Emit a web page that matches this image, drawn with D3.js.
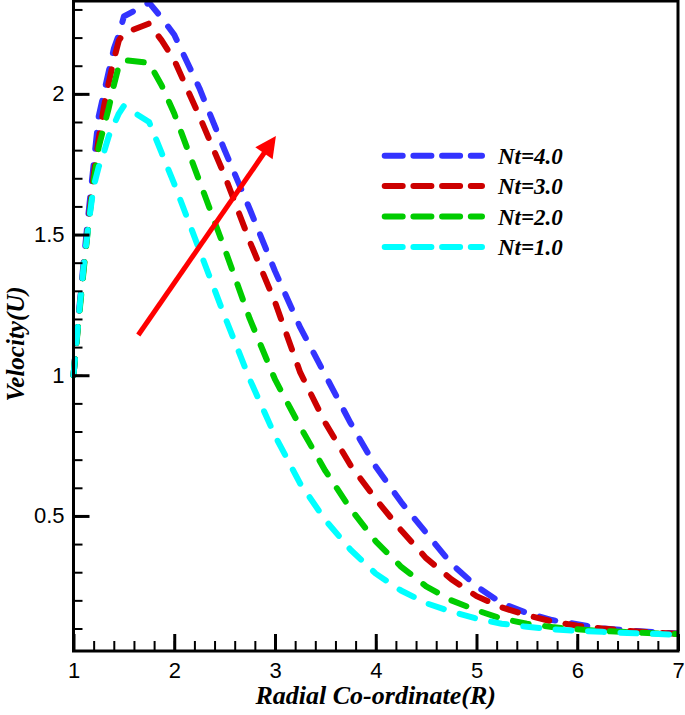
<!DOCTYPE html>
<html>
<head>
<meta charset="utf-8">
<script src="https://cdn.jsdelivr.net/npm/d3@7"></script>
<style>
  html, body { margin: 0; padding: 0; background: #ffffff; }
  svg { display: block; }
</style>
</head>
<body>
<svg id="chart" width="685" height="715"></svg>
<script>
// ---------------- data ----------------
const R = [1.0, 1.05, 1.1, 1.15, 1.2, 1.25, 1.3, 1.35, 1.4, 1.45, 1.5, 1.75, 1.875, 2.0, 2.25, 2.5, 2.75, 3.0, 3.25, 3.5, 3.75, 4.0, 4.25, 4.5, 4.75, 5.0, 5.25, 5.5, 5.75, 6.0, 6.25, 6.5, 6.75, 7.0];
const U_nt4 = [1.0, 1.21, 1.40, 1.58, 1.75, 1.92, 2.00, 2.08, 2.16, 2.21, 2.275, 2.324, 2.27, 2.21, 2.02, 1.80, 1.59, 1.37, 1.17, 1.00, 0.83, 0.675, 0.55, 0.44, 0.33, 0.25, 0.19, 0.155, 0.13, 0.115, 0.10, 0.093, 0.087, 0.082];
const U_nt3 = [1.0, 1.20, 1.38, 1.55, 1.71, 1.84, 1.95, 2.04, 2.12, 2.19, 2.215, 2.25, 2.19, 2.12, 1.92, 1.71, 1.475, 1.26, 1.01, 0.83, 0.68, 0.56, 0.45, 0.35, 0.275, 0.215, 0.175, 0.147, 0.125, 0.11, 0.10, 0.092, 0.086, 0.081];
const U_nt2 = [1.0, 1.19, 1.37, 1.54, 1.69, 1.81, 1.88, 1.95, 2.03, 2.10, 2.12, 2.11, 2.03, 1.93, 1.69, 1.45, 1.20, 0.985, 0.817, 0.66, 0.525, 0.41, 0.32, 0.25, 0.20, 0.165, 0.135, 0.117, 0.105, 0.097, 0.091, 0.087, 0.083, 0.080];
const U_nt1 = [1.0, 1.20, 1.385, 1.54, 1.67, 1.74, 1.79, 1.85, 1.89, 1.93, 1.957, 1.90, 1.79, 1.68, 1.445, 1.21, 0.985, 0.785, 0.615, 0.485, 0.38, 0.295, 0.235, 0.19, 0.16, 0.135, 0.117, 0.106, 0.097, 0.092, 0.088, 0.084, 0.081, 0.078];

const seriesNames = ["Nt=4.0", "Nt=3.0", "Nt=2.0", "Nt=1.0"];
const seriesValues = [U_nt4, U_nt3, U_nt2, U_nt1];
const seriesColors = ["#3333ff", "#cc0000", "#00cc00", "#00ffff"];

const xTicks = [1, 2, 3, 4, 5, 6, 7];
const yTicks = [0.5, 1, 1.5, 2];
const xDomain = [1, 7];
const yDomain = [0.02, 2.33];

const arrowFrom = [1.643, 1.143];
const arrowTo = [3.009, 1.850];

const xTitle = "Radial Co-ordinate(R)";
const yTitle = "Velocity(U)";

// ---------------- layout ----------------
const svg = d3.select("#chart");
const padL = 73.5, padR = 678, padT = 1, padB = 651;

const x = d3.scaleLinear().domain(xDomain).range([padL, padR]);
const y = d3.scaleLinear().domain(yDomain).range([padB, padT]);

svg.append("rect").attr("width", 685).attr("height", 715).attr("fill", "#fff");

svg.append("defs").append("clipPath").attr("id", "clip")
  .append("rect").attr("x", padL - 4).attr("y", padT).attr("width", padR - padL + 4).attr("height", padB - padT);

// curves
const line = d3.line().x(d => x(d[0])).y(d => y(d[1])).curve(d3.curveLinear);
const curves = svg.append("g").attr("clip-path", "url(#clip)");
seriesValues.forEach((vals, i) => {
  curves.append("path")
    .datum(R.map((r, k) => [r, vals[k]]))
    .attr("d", line)
    .attr("fill", "none")
    .attr("stroke", seriesColors[i])
    .attr("stroke-width", 6)
    .attr("stroke-linecap", "round")
    .attr("stroke-linejoin", "round")
    .attr("stroke-dasharray", "16,16.5");
});

// arrow
const ax0 = x(arrowFrom[0]), ay0 = y(arrowFrom[1]);
const ax1 = x(arrowTo[0]), ay1 = y(arrowTo[1]);
const adx = ax1 - ax0, ady = ay1 - ay0, alen = Math.hypot(adx, ady);
const ux = adx / alen, uy = ady / alen;
const headLen = 21, headHalf = 10.5;
const bx = ax1 - ux * headLen, by = ay1 - uy * headLen;
svg.append("line")
  .attr("x1", ax0).attr("y1", ay0).attr("x2", bx + ux * 2).attr("y2", by + uy * 2)
  .attr("stroke", "#ff0000").attr("stroke-width", 5);
svg.append("path")
  .attr("d", `M${ax1},${ay1} L${bx - uy * headHalf},${by + ux * headHalf} L${bx + uy * headHalf},${by - ux * headHalf} Z`)
  .attr("fill", "#ff0000");

// axes
const xAxisMinor = d3.axisBottom(x).tickValues(d3.range(1, 7.001, 0.2)).tickSize(-10).tickFormat("");
const xAxisMajor = d3.axisBottom(x).tickValues(xTicks).tickSize(-17).tickPadding(11).tickFormat(d3.format("d"));
const yAxisMinor = d3.axisLeft(y).tickValues(d3.range(0.1, 2.31, 0.1)).tickSize(-9).tickFormat("");
const yAxisMajor = d3.axisLeft(y).tickValues(yTicks).tickSize(-16).tickPadding(9).tickFormat(d => d3.format("")(d));

function styleAxis(g, w) {
  g.select(".domain").remove();
  g.selectAll(".tick line").attr("stroke", "#000").attr("stroke-width", w);
  g.selectAll(".tick text")
    .attr("fill", "#000")
    .attr("font-family", "'Liberation Sans', Arial, sans-serif")
    .attr("font-size", 22);
}

svg.append("g").attr("transform", `translate(0,${padB})`).call(xAxisMinor).call(g => styleAxis(g, 2));
svg.append("g").attr("transform", `translate(0,${padB})`).call(xAxisMajor).call(g => styleAxis(g, 3));
svg.append("g").attr("transform", `translate(${padL},0)`).call(yAxisMinor).call(g => styleAxis(g, 2));
svg.append("g").attr("transform", `translate(${padL},0)`).call(yAxisMajor).call(g => styleAxis(g, 3));

// frame
svg.append("rect")
  .attr("x", padL).attr("y", padT).attr("width", padR - padL).attr("height", padB - padT)
  .attr("fill", "none").attr("stroke", "#000").attr("stroke-width", 3);

// legend
const legend = svg.append("g");
seriesNames.forEach((name, i) => {
  const cy = 155.7 + i * 30.4;
  legend.append("line")
    .attr("x1", 384.7).attr("x2", 482).attr("y1", cy).attr("y2", cy)
    .attr("stroke", seriesColors[i]).attr("stroke-width", 6)
    .attr("stroke-linecap", "round")
    .attr("stroke-dasharray", "18,10.7");
  legend.append("text")
    .attr("x", 498).attr("y", cy + 8)
    .attr("font-family", "'Liberation Serif', 'Times New Roman', serif")
    .attr("font-style", "italic").attr("font-weight", "bold")
    .attr("font-size", 23).attr("fill", "#000")
    .text(name);
});

// titles
svg.append("text")
  .attr("x", (padL + padR) / 2).attr("y", 704)
  .attr("text-anchor", "middle")
  .attr("font-family", "'Liberation Serif', 'Times New Roman', serif")
  .attr("font-style", "italic").attr("font-weight", "bold")
  .attr("font-size", 26).attr("fill", "#000")
  .text(xTitle);

svg.append("text")
  .attr("transform", `translate(24,344) rotate(-90)`)
  .attr("text-anchor", "middle")
  .attr("font-family", "'Liberation Serif', 'Times New Roman', serif")
  .attr("font-style", "italic").attr("font-weight", "bold")
  .attr("font-size", 25).attr("fill", "#000")
  .text(yTitle);
</script>
</body>
</html>
